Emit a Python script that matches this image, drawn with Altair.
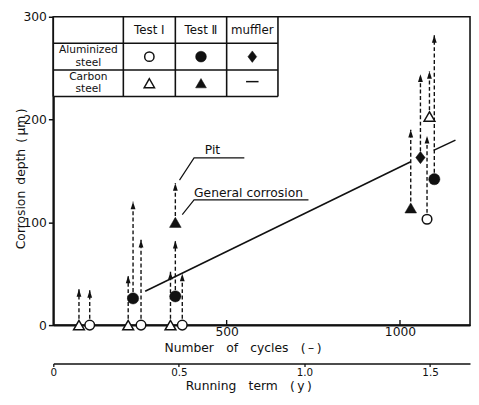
import altair as alt
import pandas as pd

# ---------------- data ----------------
# Test I, aluminized steel (open circles)
t1_al_cycles = [105, 253, 372, 1078]
t1_al_depth = [0, 0, 0, 103]
# Test I, carbon steel (open triangles)
t1_cs_cycles = [74, 216, 338, 1085]
t1_cs_depth = [0, 0, 0, 203]
# Test II, aluminized steel (filled circles)
t2_al_cycles = [230, 352, 1099]
t2_al_depth = [26, 28, 142]
# Test II, carbon steel (filled triangles)
t2_cs_cycles = [352, 1031]
t2_cs_depth = [100, 114]
# muffler, aluminized steel (filled diamond)
muf_al_cycles = [1059]
muf_al_depth = [163]

# pit depth arrows (dashed, from general corrosion value up to pit depth)
pit_cycles = [74, 105, 216, 230, 253, 338, 352, 352, 372, 1031, 1059, 1078, 1085, 1099]
pit_from = [0, 0, 0, 26, 0, 0, 28, 100, 0, 114, 163, 103, 203, 142]
pit_to = [35, 34, 48, 120, 83, 52, 82, 138, 50, 190, 244, 184, 247, 282]

# general corrosion trend line (two pieces)
gc_cycles = [265, 1031, 1097, 1160]
gc_depth = [33, 159, 170, 180]
gc_piece = [0, 0, 1, 1]

x_ticks = [500, 1000]
y_ticks = [0, 100, 200, 300]
yr_ticks = [0, 0.5, 1.0, 1.5]

col_labels = ["Test \u2160", "Test \u2161", "muffler"]
row_labels_top = ["Aluminized", "Carbon"]
row_labels_bottom = ["steel", "steel"]

# ---------------- layout constants ----------------
FONT = "DejaVu Sans"
INK = "#111111"
TBL_X = [0, 202, 352, 500, 648]
TBL_Y = [222.4, 248.3, 274.2, 300]
COL_C = [277, 426, 574]
ROW_C = [261.2, 235.4]
HEAD_C = 287.1
LABEL_C = 101
LINE_OFF = 6.1  # half line spacing in data units

xs = alt.Scale(domain=[0, 1202], nice=False, zero=False)
ys = alt.Scale(domain=[0, 300], nice=False, zero=False)

x_axis = alt.Axis(values=x_ticks, ticks=False, labelPadding=1, labelFontSize=12.5, format="d",
                  title="Number\u2003of\u2003cycles\u2003(\u2009\u2013\u2009)",
                  titleFontSize=12.5, titleFontWeight="normal", titlePadding=3,
                  titleX=192, grid=False, domainWidth=2)
y_axis = alt.Axis(values=y_ticks, tickSize=5, tickWidth=1.5, labelPadding=2, format="d",
                  labelFontSize=12.5,
                  title="Corrosion\u2002depth\u2002(\u2009\u03bcm\u2009)",
                  titleFontSize=12.5, titleFontWeight="normal",
                  titleX=-33, titleY=164, titleBaseline="middle",
                  grid=False, domainWidth=2)


def X(f="x"):
    return alt.X(f"{f}:Q", scale=xs, axis=x_axis)


def Y(f="y"):
    return alt.Y(f"{f}:Q", scale=ys, axis=y_axis)


def pts(xv, yv):
    return pd.DataFrame({"x": xv, "y": yv})


DIAMOND = "M0,-1.3L1,0L0,1.3L-1,0Z"
ARROW = "M0,0L0.7,2.2L-0.7,2.2Z"


def point_layer(df, shape, fill, size, sw=1.5):
    return alt.Chart(df).mark_point(shape=shape, filled=True, fill=fill, stroke=INK,
                                    strokeWidth=sw, size=size, opacity=1).encode(x=X(), y=Y())


layers = []

# legend table
tbl_bg = pd.DataFrame({"x": [TBL_X[0]], "x2": [TBL_X[-1]], "y": [TBL_Y[0]], "y2": [TBL_Y[-1]]})
layers.append(alt.Chart(tbl_bg).mark_rect(fill="white").encode(x=X(), x2="x2", y=Y(), y2="y2"))
hl = pd.DataFrame({"x": [TBL_X[0]] * len(TBL_Y), "x2": [TBL_X[-1]] * len(TBL_Y), "y": TBL_Y})
layers.append(alt.Chart(hl).mark_rule(color=INK, strokeWidth=1.6).encode(x=X(), x2="x2", y=Y()))
vl = pd.DataFrame({"x": TBL_X, "y": [TBL_Y[0]] * len(TBL_X), "y2": [TBL_Y[-1]] * len(TBL_X)})
layers.append(alt.Chart(vl).mark_rule(color=INK, strokeWidth=1.6).encode(x=X(), y=Y(), y2="y2"))
head = pd.DataFrame({"x": COL_C, "y": [HEAD_C] * 3, "t": col_labels})
layers.append(alt.Chart(head).mark_text(font=FONT, fontSize=12, color=INK).encode(
    x=X(), y=Y(), text="t:N"))
rows = pd.DataFrame({
    "x": [LABEL_C] * 4,
    "y": [ROW_C[0] + LINE_OFF, ROW_C[1] + LINE_OFF, ROW_C[0] - LINE_OFF, ROW_C[1] - LINE_OFF],
    "t": row_labels_top + row_labels_bottom,
})
layers.append(alt.Chart(rows).mark_text(font=FONT, fontSize=10.8, color=INK,
                                        baseline="middle").encode(
    x=X(), y=Y(), text="t:N"))
layers.append(point_layer(pts([COL_C[0]], [ROW_C[0]]), "circle", "white", 90))
layers.append(point_layer(pts([COL_C[1]], [ROW_C[0]]), "circle", INK, 120, 0.5))
layers.append(point_layer(pts([COL_C[2]], [ROW_C[0]]), DIAMOND, INK, 80, 0.5))
layers.append(point_layer(pts([COL_C[0]], [ROW_C[1]]), "triangle-up", "white", 110))
layers.append(point_layer(pts([COL_C[1]], [ROW_C[1]]), "triangle-up", INK, 120, 0.5))
dash_cell = pd.DataFrame({"x": [COL_C[2] - 18], "x2": [COL_C[2] + 18], "y": [ROW_C[1] + 1.5]})
layers.append(alt.Chart(dash_cell).mark_rule(color=INK, strokeWidth=1.5).encode(
    x=X(), x2="x2", y=Y()))

# general corrosion trend
gc = pd.DataFrame({"x": gc_cycles, "y": gc_depth, "p": gc_piece})
layers.append(alt.Chart(gc).mark_line(color=INK, strokeWidth=1.6).encode(
    x=X(), y=Y(), detail="p:N"))

# pit arrows
pit = pd.DataFrame({"x": pit_cycles, "y": pit_from, "y2": pit_to})
layers.append(alt.Chart(pit).mark_rule(color=INK, strokeWidth=1.4, strokeDash=[4, 2.5]).encode(
    x=X(), y=Y(), y2="y2"))
tips = pd.DataFrame({"x": pit_cycles, "y": pit_to})
layers.append(alt.Chart(tips).mark_point(shape=ARROW, filled=True, fill=INK, strokeWidth=0,
                                         size=49, opacity=1).encode(x=X(), y=Y()))

# data markers
layers.append(point_layer(pts(t1_al_cycles, t1_al_depth), "circle", "white", 95))
layers.append(point_layer(pts(t1_cs_cycles, t1_cs_depth), "triangle-up", "white", 120))
layers.append(point_layer(pts(t2_al_cycles, t2_al_depth), "circle", INK, 130, 0.5))
layers.append(point_layer(pts(t2_cs_cycles, t2_cs_depth), "triangle-up", INK, 140, 0.5))
layers.append(point_layer(pts(muf_al_cycles, muf_al_depth), DIAMOND, INK, 90, 0.5))

# annotations
lead = pd.DataFrame({
    "x": [364, 406, 551, 372, 406, 736],
    "y": [141, 162.7, 162.7, 107.4, 121.8, 121.8],
    "g": [0, 0, 0, 1, 1, 1],
    "o": [0, 1, 2, 0, 1, 2],
})
layers.append(alt.Chart(lead).mark_line(color=INK, strokeWidth=1.2).encode(
    x=X(), y=Y(), detail="g:N", order="o:Q"))
notes = pd.DataFrame({"x": [437, 406], "y": [170.5, 128.2], "t": ["Pit", "General corrosion"]})
layers.append(alt.Chart(notes).mark_text(font=FONT, fontSize=12.5, color=INK, align="left",
                                         baseline="middle").encode(x=X(), y=Y(), text="t:N"))

# inner ticks of the cycles axis
xt = pd.DataFrame({"x": x_ticks, "y": [0, 0], "y2": [5, 5]})
layers.append(alt.Chart(xt).mark_rule(color=INK, strokeWidth=1.4).encode(x=X(), y=Y(), y2="y2"))

main = alt.layer(*layers)

# running term axis
yr = pd.DataFrame({"yr": [0, 1.5]})
yr_layer = alt.Chart(yr).mark_point(opacity=0).encode(
    x=alt.X("yr:Q", scale=alt.Scale(domain=[0, 1.659], nice=False, zero=False),
            axis=alt.Axis(orient="bottom", offset=39, values=yr_ticks,
                          labelExpr="datum.value == 0 ? '0' : format(datum.value, '.1f')",
                          tickSize=3, tickWidth=1.3, labelPadding=1, labelFontSize=10.5,
                          labelFlush=False, domainWidth=1.6,
                          title="Running\u2003term\u2003(\u2009y\u2009)", titleFontSize=12.5,
                          titleFontWeight="normal", titlePadding=2, titleX=198, grid=False))
)

chart = alt.layer(main, yr_layer).resolve_scale(x="independent").properties(
    width=423, height=313,
    autosize=alt.AutoSizeParams(type="none"),
    padding={"left": 46, "top": 6, "right": 1, "bottom": 66},
    background="white",
).configure_axis(
    labelFont=FONT, titleFont=FONT, labelColor=INK, titleColor=INK,
    domainColor=INK, tickColor=INK,
).configure_view(stroke=INK, strokeWidth=1.6)

chart.save("out.html", embed_options={"renderer": "svg", "actions": False})
